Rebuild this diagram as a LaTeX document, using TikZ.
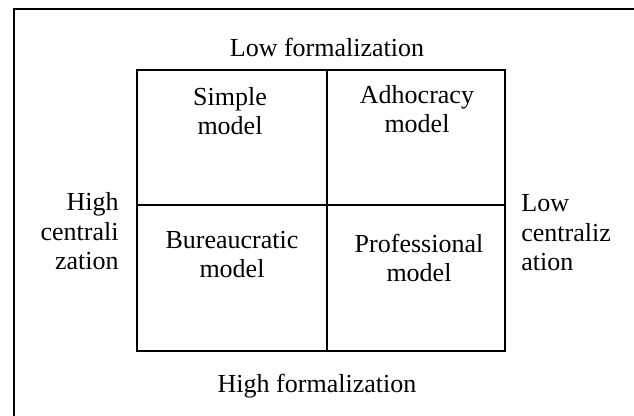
\documentclass[tikz,border=0pt]{standalone}
\usepackage{fontspec}
\setmainfont{Liberation Serif}
\begin{document}
\begin{tikzpicture}[x=0.5pt,y=-0.5pt,
  every node/.style={inner sep=0pt,anchor=base,align=center,
    font=\fontsize{13}{14.75}\selectfont}]
\useasboundingbox (0,0) rectangle (634,416);
% frame, only left and top show
\draw[line width=0.8pt] (14,416) -- (14,9) -- (634,9);
% the 2x2 grid
\draw[line width=1pt] (137,70) rectangle (505,351);
\draw[line width=1pt] (327,70) -- (327,351);
\draw[line width=1pt] (137,205) -- (505,205);
% axis labels (base = last line)
\node (lowf) at (327,57) {Low formalization};
\node (highf) at (317,393) {High formalization};
\node[anchor=base east,align=right] (highc) at (119,270) {High\\centrali\\zation};
\node[anchor=base west,align=left] (lowc) at (521,271) {Low\\centraliz\\ation};
% the four cells
\node (simple) at (230,135) {Simple\\model};
\node (adhoc) at (417,133) {Adhocracy\\model};
\node (bureau) at (232,278) {Bureaucratic\\model};
\node (prof) at (419,282) {Professional\\model};
\end{tikzpicture}
\end{document}
